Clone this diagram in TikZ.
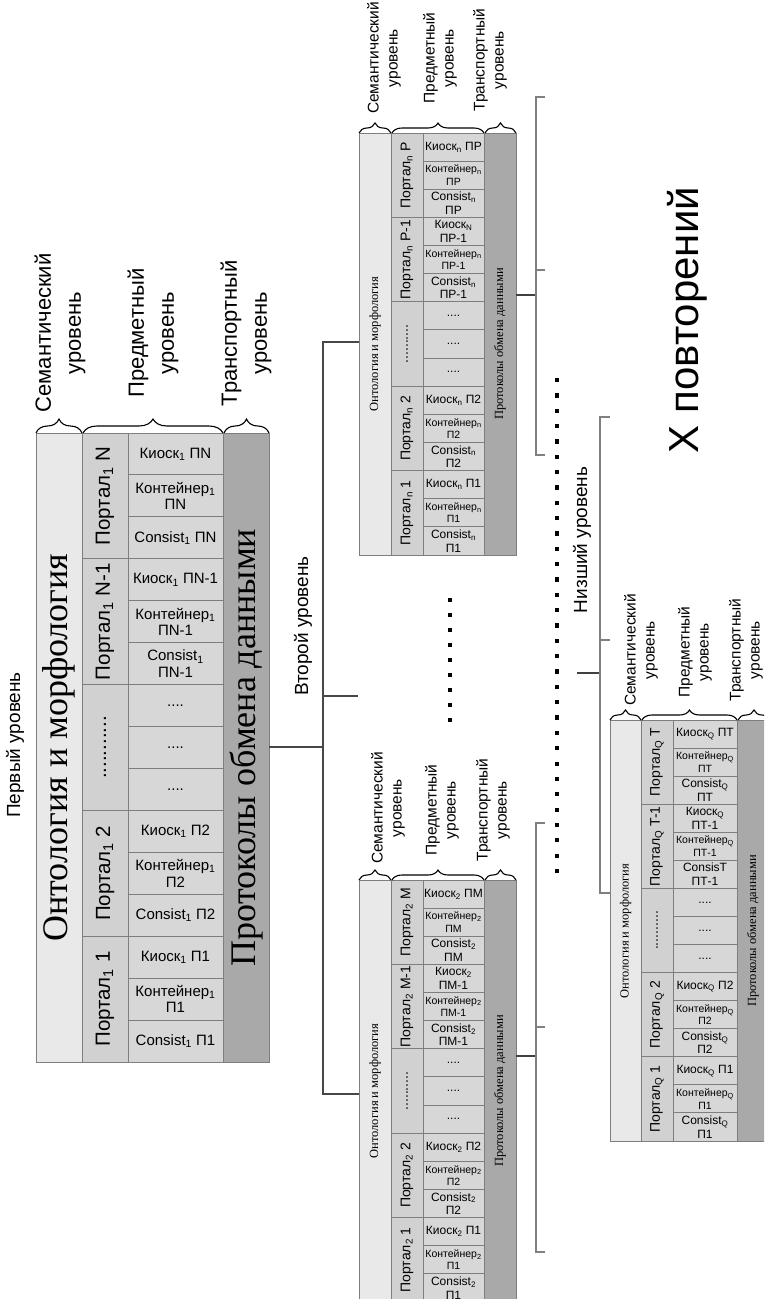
\documentclass[tikz,border=0pt]{standalone}
\usepackage{fontspec}
\setmainfont{Liberation Sans}
\newfontfamily\serifru{Liberation Serif}
\usetikzlibrary{decorations.pathreplacing}
\definecolor{semgray}{HTML}{E9E9E9}
\definecolor{portgray}{HTML}{D1D1D1}
\definecolor{itemgray}{HTML}{D7D7D7}
\definecolor{transgray}{HTML}{A9A9A9}
\definecolor{gridline}{HTML}{7E7E7E}
\newcommand{\lsub}[1]{\textsubscript{#1}}
% one layer block: x0,x1,x2,x3,x4 (column edges), top, bottom; 15 rows
\newcommand{\layerblock}[7]{%
  \def\blocktop{#6}%
  \pgfmathsetmacro{\rowh}{(#7-#6)/15}%
  \fill[semgray]  (#1,#6) rectangle (#2,#7);
  \fill[portgray] (#2,#6) rectangle (#3,#7);
  \fill[itemgray] (#3,#6) rectangle (#4,#7);
  \fill[transgray](#4,#6) rectangle (#5,#7);
  \foreach \k in {1,...,14}{\draw[gridln] (#3,{#6+\k*\rowh}) -- (#4,{#6+\k*\rowh});}
  \foreach \k in {3,6,9,12}{\draw[gridln] (#2,{#6+\k*\rowh}) -- (#3,{#6+\k*\rowh});}
  \draw[gridln] (#2,#6) -- (#2,#7) (#3,#6) -- (#3,#7) (#4,#6) -- (#4,#7);
  \draw[gridln] (#1,#6) rectangle (#5,#7);
}
% text placed in the middle of row #4 of the current block
\newcommand{\cellat}[5]{\node[#1] (#2) at (#3,{\blocktop+(#4-0.5)*\rowh}) {#5};}
\begin{document}
\begin{tikzpicture}[x=1pt,y=-1pt,
  gridln/.style={draw=gridline, line width=0.9pt},
  brc/.style={decorate, decoration={brace, amplitude=#1}, draw=black, line width=1.1pt},
  lvlname/.style={rotate=90, inner sep=0pt, font=\fontsize{19}{22}\selectfont},
  headL/.style={rotate=90, inner sep=0pt, align=center, font=\fontsize{22}{30}\selectfont},
  headS/.style={rotate=90, inner sep=0pt, align=center, font=\fontsize{15.5}{19}\selectfont},
  titleL/.style={rotate=90, inner sep=0pt, font=\serifru\fontsize{36}{40}\selectfont},
  titleS/.style={rotate=90, inner sep=0pt, font=\serifru\fontsize{12.5}{14}\selectfont},
  portL/.style={rotate=90, inner sep=0pt, font=\fontsize{20.5}{24}\selectfont},
  portS/.style={rotate=90, inner sep=0pt, font=\fontsize{14}{16}\selectfont},
  itemL/.style={inner sep=0pt, align=center, font=\fontsize{15}{16.5}\selectfont},
  itemS/.style={inner sep=0pt, align=center, font=\fontsize{12}{13.5}\selectfont},
  ctnS/.style={inner sep=0pt, align=center, font=\fontsize{10.5}{12.5}\selectfont},
  treeln/.style={draw=black!72, line width=1.4pt},
  brk/.style={draw=black!50, line width=1.1pt},
  stemln/.style={draw=black!75, line width=1.5pt},
  bigtxt/.style={rotate=90, inner sep=0pt, font=\fontsize{42}{48}\selectfont},
]
\useasboundingbox (0,0) rectangle (764,1299);
\clip (0,0) rectangle (764,1299);
\fill[white] (0,0) rectangle (764,1299);

% ---------------- first level ----------------
\node[lvlname] (lvl1) at (15,745) {Первый уровень};
\layerblock{36}{82}{128}{223}{269}{433}{1062}
\node[titleL] (b1-sem) at (59,747.5) {Онтология и морфология};
\node[titleL] (b1-tr) at (246,747.5) {Протоколы обмена данными};
\draw[brc=14pt] (36,433) -- (82,433);
\draw[brc=14pt] (83,433) -- (223,433);
\draw[brc=14pt] (224,433) -- (269,433);
\node[headL] (b1-h1) at (60,333) {Семантический\\уровень};
\node[headL] (b1-h2) at (153,333) {Предметный\\уровень};
\node[headL] (b1-h3) at (246,333) {Транспортный\\уровень};
\cellat{portL}{b1-p1}{105}{2}{Портал\lsub{1} N}
\cellat{portL}{b1-p2}{105}{5}{Портал\lsub{1} N-1}
\cellat{portL}{b1-p3}{105}{8}{...........}
\cellat{portL}{b1-p4}{105}{11}{Портал\lsub{1} 2}
\cellat{portL}{b1-p5}{105}{14}{Портал\lsub{1} 1}
\cellat{itemL}{b1-i1}{175.5}{1}{Киоск\lsub{1} ПN}
\cellat{itemL}{b1-i2}{175.5}{2}{Контейнер\lsub{1}\\ПN}
\cellat{itemL}{b1-i3}{175.5}{3}{Consist\lsub{1} ПN}
\cellat{itemL}{b1-i4}{175.5}{4}{Киоск\lsub{1} ПN-1}
\cellat{itemL}{b1-i5}{175.5}{5}{Контейнер\lsub{1}\\ПN-1}
\cellat{itemL}{b1-i6}{175.5}{6}{Consist\lsub{1}\\ПN-1}
\cellat{itemL}{b1-i7}{175.5}{7}{....}
\cellat{itemL}{b1-i8}{175.5}{8}{....}
\cellat{itemL}{b1-i9}{175.5}{9}{....}
\cellat{itemL}{b1-i10}{175.5}{10}{Киоск\lsub{1} П2}
\cellat{itemL}{b1-i11}{175.5}{11}{Контейнер\lsub{1}\\П2}
\cellat{itemL}{b1-i12}{175.5}{12}{Consist\lsub{1} П2}
\cellat{itemL}{b1-i13}{175.5}{13}{Киоск\lsub{1} П1}
\cellat{itemL}{b1-i14}{175.5}{14}{Контейнер\lsub{1}\\П1}
\cellat{itemL}{b1-i15}{175.5}{15}{Consist\lsub{1} П1}

% ---------------- second level, upper block ----------------
\layerblock{359}{391}{423}{484}{516}{133}{555}
\node[titleS] (b2a-sem) at (375,344) {Онтология и морфология};
\node[titleS] (b2a-tr) at (500,344) {Протоколы обмена данными};
\draw[brc=10pt] (359,133) -- (391,133);
\draw[brc=10pt] (392,133) -- (484,133);
\draw[brc=10pt] (485,133) -- (516,133);
\node[headS] (b2a-h1) at (384,58) {Семантический\\уровень};
\node[headS] (b2a-h2) at (440,58) {Предметный\\уровень};
\node[headS] (b2a-h3) at (490,60) {Транспортный\\уровень};
\cellat{portS}{b2a-p1}{407}{2}{Портал\lsub{n} P}
\cellat{portS}{b2a-p2}{407}{5}{Портал\lsub{n} P-1}
\cellat{portS}{b2a-p3}{407}{8}{..........}
\cellat{portS}{b2a-p4}{407}{11}{Портал\lsub{n} 2}
\cellat{portS}{b2a-p5}{407}{14}{Портал\lsub{n} 1}
\cellat{itemS}{b2a-i1}{453.5}{1}{Киоск\lsub{n} ПР}
\cellat{ctnS}{b2a-i2}{453.5}{2}{Контейнер\lsub{n}\\ПР}
\cellat{itemS}{b2a-i3}{453.5}{3}{Consist\lsub{n}\\ПР}
\cellat{itemS}{b2a-i4}{453.5}{4}{Киоск\lsub{N}\\ПР-1}
\cellat{ctnS}{b2a-i5}{453.5}{5}{Контейнер\lsub{n}\\ПР-1}
\cellat{itemS}{b2a-i6}{453.5}{6}{Consist\lsub{n}\\ПР-1}
\cellat{itemS}{b2a-i7}{453.5}{7}{....}
\cellat{itemS}{b2a-i8}{453.5}{8}{....}
\cellat{itemS}{b2a-i9}{453.5}{9}{....}
\cellat{itemS}{b2a-i10}{453.5}{10}{Киоск\lsub{n} П2}
\cellat{ctnS}{b2a-i11}{453.5}{11}{Контейнер\lsub{n}\\П2}
\cellat{itemS}{b2a-i12}{453.5}{12}{Consist\lsub{n}\\П2}
\cellat{itemS}{b2a-i13}{453.5}{13}{Киоск\lsub{n} П1}
\cellat{ctnS}{b2a-i14}{453.5}{14}{Контейнер\lsub{n}\\П1}
\cellat{itemS}{b2a-i15}{453.5}{15}{Consist\lsub{n}\\П1}

% ---------------- second level, lower block ----------------
\layerblock{359}{391}{423}{484}{516}{880}{1302}
\node[titleS] (b2b-sem) at (375,1091) {Онтология и морфология};
\node[titleS] (b2b-tr) at (500,1091) {Протоколы обмена данными};
\draw[brc=10pt] (359,880) -- (391,880);
\draw[brc=10pt] (392,880) -- (484,880);
\draw[brc=10pt] (485,880) -- (516,880);
\node[headS] (b2b-h1) at (388,808) {Семантический\\уровень};
\node[headS] (b2b-h2) at (442,810) {Предметный\\уровень};
\node[headS] (b2b-h3) at (493,810) {Транспортный\\уровень};
\cellat{portS}{b2b-p1}{407}{2}{Портал\lsub{2} M}
\cellat{portS}{b2b-p2}{407}{5}{Портал\lsub{2} M-1}
\cellat{portS}{b2b-p3}{407}{8}{..........}
\cellat{portS}{b2b-p4}{407}{11}{Портал\lsub{2} 2}
\cellat{portS}{b2b-p5}{407}{14}{Портал\lsub{2} 1}
\cellat{itemS}{b2b-i1}{453.5}{1}{Киоск\lsub{2} ПМ}
\cellat{ctnS}{b2b-i2}{453.5}{2}{Контейнер\lsub{2}\\ПМ}
\cellat{itemS}{b2b-i3}{453.5}{3}{Consist\lsub{2}\\ПМ}
\cellat{itemS}{b2b-i4}{453.5}{4}{Киоск\lsub{2}\\ПМ-1}
\cellat{ctnS}{b2b-i5}{453.5}{5}{Контейнер\lsub{2}\\ПМ-1}
\cellat{itemS}{b2b-i6}{453.5}{6}{Consist\lsub{2}\\ПМ-1}
\cellat{itemS}{b2b-i7}{453.5}{7}{....}
\cellat{itemS}{b2b-i8}{453.5}{8}{....}
\cellat{itemS}{b2b-i9}{453.5}{9}{....}
\cellat{itemS}{b2b-i10}{453.5}{10}{Киоск\lsub{2} П2}
\cellat{ctnS}{b2b-i11}{453.5}{11}{Контейнер\lsub{2}\\П2}
\cellat{itemS}{b2b-i12}{453.5}{12}{Consist\lsub{2}\\П2}
\cellat{itemS}{b2b-i13}{453.5}{13}{Киоск\lsub{2} П1}
\cellat{ctnS}{b2b-i14}{453.5}{14}{Контейнер\lsub{2}\\П1}
\cellat{itemS}{b2b-i15}{453.5}{15}{Consist\lsub{2}\\П1}

% ---------------- lowest level block ----------------
\layerblock{610}{641}{673}{737}{770}{720}{1141}
\node[titleS] (b3-sem) at (625.5,931) {Онтология и морфология};
\node[titleS] (b3-tr) at (753,931) {Протоколы обмена данными};
\draw[brc=10pt] (610,720) -- (641,720);
\draw[brc=10pt] (642,720) -- (737,720);
\draw[brc=10pt] (738,720) -- (770,720);
\node[headS] (b3-h1) at (641,650) {Семантический\\уровень};
\node[headS] (b3-h2) at (695,652) {Предметный\\уровень};
\node[headS] (b3-h3) at (746,650) {Транспортный\\уровень};
\cellat{portS}{b3-p1}{657}{2}{Портал\lsub{Q} T}
\cellat{portS}{b3-p2}{657}{5}{Портал\lsub{Q} T-1}
\cellat{portS}{b3-p3}{657}{8}{..........}
\cellat{portS}{b3-p4}{657}{11}{Портал\lsub{Q} 2}
\cellat{portS}{b3-p5}{657}{14}{Портал\lsub{Q} 1}
\cellat{itemS}{b3-i1}{705}{1}{Киоск\lsub{Q} ПТ}
\cellat{ctnS}{b3-i2}{705}{2}{Контейнер\lsub{Q}\\ПТ}
\cellat{itemS}{b3-i3}{705}{3}{Consist\lsub{Q}\\ПТ}
\cellat{itemS}{b3-i4}{705}{4}{Киоск\lsub{Q}\\ПТ-1}
\cellat{ctnS}{b3-i5}{705}{5}{Контейнер\lsub{Q}\\ПТ-1}
\cellat{itemS}{b3-i6}{705}{6}{ConsisT\\ПТ-1}
\cellat{itemS}{b3-i7}{705}{7}{....}
\cellat{itemS}{b3-i8}{705}{8}{....}
\cellat{itemS}{b3-i9}{705}{9}{....}
\cellat{itemS}{b3-i10}{705}{10}{Киоск\lsub{Q} П2}
\cellat{ctnS}{b3-i11}{705}{11}{Контейнер\lsub{Q}\\П2}
\cellat{itemS}{b3-i12}{705}{12}{Consist\lsub{Q}\\П2}
\cellat{itemS}{b3-i13}{705}{13}{Киоск\lsub{Q} П1}
\cellat{ctnS}{b3-i14}{705}{14}{Контейнер\lsub{Q}\\П1}
\cellat{itemS}{b3-i15}{705}{15}{Consist\lsub{Q}\\П1}

% ---------------- tree from the first to the second level ----------------
\coordinate (b1-out) at (269,747);
\coordinate (sp2) at (323,747);
\coordinate (b2a-in) at (359,342);
\coordinate (b2b-in) at (359,1094);
\coordinate (stub2) at (358,696);
\draw[treeln] (b1-out) -- (sp2);
\draw[treeln] (b2a-in) -| (sp2) |- (b2b-in);
\draw[treeln] (stub2) -- (stub2 -| sp2);
\node[lvlname] (lvl2) at (303,626) {Второй уровень};

% brackets to the right of the second-level blocks
\coordinate (b2a-out) at (516,295);
\coordinate (r2a) at (536,295);
\coordinate (r2a-t) at (545,97);
\coordinate (r2a-m) at (545,270);
\coordinate (r2a-b) at (545,455);
\draw[stemln] (b2a-out) -- (r2a);
\draw[brk] (r2a-t) -| (r2a) |- (r2a-b);
\draw[brk] (r2a-m) -- (r2a-m -| r2a);

\coordinate (b2b-out) at (516,1056);
\coordinate (r2b) at (536,1056);
\coordinate (r2b-t) at (545,823);
\coordinate (r2b-m) at (545,1027);
\coordinate (r2b-b) at (545,1252);
\draw[stemln] (b2b-out) -- (r2b);
\draw[brk] (r2b-t) -| (r2b) |- (r2b-b);
\draw[brk] (r2b-m) -- (r2b-m -| r2b);

% bracket of the lowest level
\coordinate (low-stem) at (577,673);
\coordinate (rl) at (600,673);
\coordinate (rl-t) at (610,417);
\coordinate (rl-m) at (610,640);
\coordinate (b3-in) at (610,893);
\draw[stemln] (low-stem) -- (rl);
\draw[brk] (rl-t) -| (rl) |- (b3-in);
\draw[brk] (rl-m) -- (rl-m -| rl);
\node[lvlname] (lvl3) at (582,540) {Низший уровень};

% rows of dots standing for the omitted blocks
\foreach \k in {0,...,8} \fill (448,{598+\k*15}) rectangle ++(4.2,4.2);
\foreach \k in {0,...,32} \fill (555,{378+\k*15.34}) rectangle ++(4.2,4.2);

\node[bigtxt] (reps) at (687,320) {X повторений};
\end{tikzpicture}
\end{document}
